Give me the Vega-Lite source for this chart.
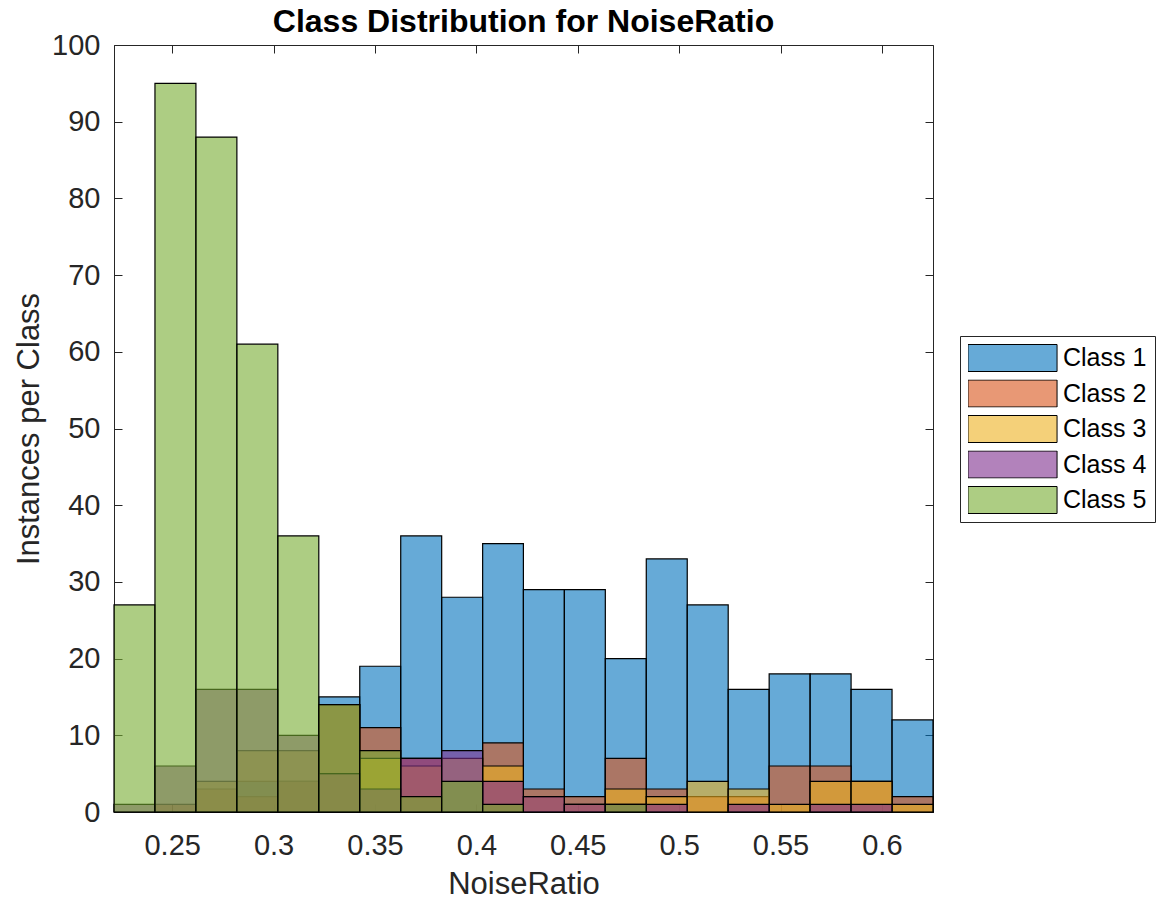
{
  "$schema": "https://vega.github.io/schema/vega-lite/v6.json",
  "width": 819,
  "height": 767,
  "autosize": {"type": "none"},
  "padding": {"left": 114, "top": 45, "right": 228, "bottom": 89},
  "background": "white",
  "title": {"text": "Class Distribution for NoiseRatio", "fontSize": 32, "fontWeight": "bold", "font": "Liberation Sans", "color": "black", "anchor": "middle", "frame": "group", "offset": -8},
  "config": {"view": {"stroke": "#262626", "strokeWidth": 1}},
  "datasets": {
    "h": [
      {"cls": "Class 1", "x0": 0.2819, "x1": 0.3021, "n": 4},
      {"cls": "Class 1", "x0": 0.3021, "x1": 0.3223, "n": 4},
      {"cls": "Class 1", "x0": 0.3223, "x1": 0.3425, "n": 15},
      {"cls": "Class 1", "x0": 0.3425, "x1": 0.3627, "n": 19},
      {"cls": "Class 1", "x0": 0.3627, "x1": 0.3829, "n": 36},
      {"cls": "Class 1", "x0": 0.3829, "x1": 0.4031, "n": 28},
      {"cls": "Class 1", "x0": 0.4031, "x1": 0.4232, "n": 35},
      {"cls": "Class 1", "x0": 0.4232, "x1": 0.4434, "n": 29},
      {"cls": "Class 1", "x0": 0.4434, "x1": 0.4636, "n": 29},
      {"cls": "Class 1", "x0": 0.4636, "x1": 0.4838, "n": 20},
      {"cls": "Class 1", "x0": 0.4838, "x1": 0.504, "n": 33},
      {"cls": "Class 1", "x0": 0.504, "x1": 0.5242, "n": 27},
      {"cls": "Class 1", "x0": 0.5242, "x1": 0.5444, "n": 16},
      {"cls": "Class 1", "x0": 0.5444, "x1": 0.5646, "n": 18},
      {"cls": "Class 1", "x0": 0.5646, "x1": 0.5848, "n": 18},
      {"cls": "Class 1", "x0": 0.5848, "x1": 0.605, "n": 16},
      {"cls": "Class 1", "x0": 0.605, "x1": 0.6252, "n": 12},
      {"cls": "Class 2", "x0": 0.2415, "x1": 0.2617, "n": 1},
      {"cls": "Class 2", "x0": 0.2617, "x1": 0.2819, "n": 3},
      {"cls": "Class 2", "x0": 0.2819, "x1": 0.3021, "n": 2},
      {"cls": "Class 2", "x0": 0.3021, "x1": 0.3223, "n": 4},
      {"cls": "Class 2", "x0": 0.3223, "x1": 0.3425, "n": 14},
      {"cls": "Class 2", "x0": 0.3425, "x1": 0.3627, "n": 11},
      {"cls": "Class 2", "x0": 0.3627, "x1": 0.3829, "n": 7},
      {"cls": "Class 2", "x0": 0.4031, "x1": 0.4232, "n": 9},
      {"cls": "Class 2", "x0": 0.4232, "x1": 0.4434, "n": 3},
      {"cls": "Class 2", "x0": 0.4434, "x1": 0.4636, "n": 2},
      {"cls": "Class 2", "x0": 0.4636, "x1": 0.4838, "n": 7},
      {"cls": "Class 2", "x0": 0.4838, "x1": 0.504, "n": 3},
      {"cls": "Class 2", "x0": 0.504, "x1": 0.5242, "n": 2},
      {"cls": "Class 2", "x0": 0.5242, "x1": 0.5444, "n": 2},
      {"cls": "Class 2", "x0": 0.5444, "x1": 0.5646, "n": 6},
      {"cls": "Class 2", "x0": 0.5646, "x1": 0.5848, "n": 6},
      {"cls": "Class 2", "x0": 0.5848, "x1": 0.605, "n": 4},
      {"cls": "Class 2", "x0": 0.605, "x1": 0.6252, "n": 2},
      {"cls": "Class 3", "x0": 0.2617, "x1": 0.2819, "n": 4},
      {"cls": "Class 3", "x0": 0.2819, "x1": 0.3021, "n": 8},
      {"cls": "Class 3", "x0": 0.3021, "x1": 0.3223, "n": 8},
      {"cls": "Class 3", "x0": 0.3223, "x1": 0.3425, "n": 5},
      {"cls": "Class 3", "x0": 0.3425, "x1": 0.3627, "n": 7},
      {"cls": "Class 3", "x0": 0.3627, "x1": 0.3829, "n": 6},
      {"cls": "Class 3", "x0": 0.3829, "x1": 0.4031, "n": 7},
      {"cls": "Class 3", "x0": 0.4031, "x1": 0.4232, "n": 6},
      {"cls": "Class 3", "x0": 0.4232, "x1": 0.4434, "n": 2},
      {"cls": "Class 3", "x0": 0.4434, "x1": 0.4636, "n": 1},
      {"cls": "Class 3", "x0": 0.4636, "x1": 0.4838, "n": 3},
      {"cls": "Class 3", "x0": 0.4838, "x1": 0.504, "n": 2},
      {"cls": "Class 3", "x0": 0.504, "x1": 0.5242, "n": 4},
      {"cls": "Class 3", "x0": 0.5242, "x1": 0.5444, "n": 3},
      {"cls": "Class 3", "x0": 0.5444, "x1": 0.5646, "n": 1},
      {"cls": "Class 3", "x0": 0.5646, "x1": 0.5848, "n": 4},
      {"cls": "Class 3", "x0": 0.5848, "x1": 0.605, "n": 4},
      {"cls": "Class 3", "x0": 0.605, "x1": 0.6252, "n": 1},
      {"cls": "Class 4", "x0": 0.2213, "x1": 0.2415, "n": 1},
      {"cls": "Class 4", "x0": 0.2415, "x1": 0.2617, "n": 6},
      {"cls": "Class 4", "x0": 0.2617, "x1": 0.2819, "n": 16},
      {"cls": "Class 4", "x0": 0.2819, "x1": 0.3021, "n": 16},
      {"cls": "Class 4", "x0": 0.3021, "x1": 0.3223, "n": 10},
      {"cls": "Class 4", "x0": 0.3223, "x1": 0.3425, "n": 5},
      {"cls": "Class 4", "x0": 0.3425, "x1": 0.3627, "n": 3},
      {"cls": "Class 4", "x0": 0.3627, "x1": 0.3829, "n": 7},
      {"cls": "Class 4", "x0": 0.3829, "x1": 0.4031, "n": 8},
      {"cls": "Class 4", "x0": 0.4031, "x1": 0.4232, "n": 4},
      {"cls": "Class 4", "x0": 0.4232, "x1": 0.4434, "n": 2},
      {"cls": "Class 4", "x0": 0.4434, "x1": 0.4636, "n": 1},
      {"cls": "Class 4", "x0": 0.4636, "x1": 0.4838, "n": 1},
      {"cls": "Class 4", "x0": 0.4838, "x1": 0.504, "n": 1},
      {"cls": "Class 4", "x0": 0.5242, "x1": 0.5444, "n": 1},
      {"cls": "Class 4", "x0": 0.5646, "x1": 0.5848, "n": 1},
      {"cls": "Class 4", "x0": 0.5848, "x1": 0.605, "n": 1},
      {"cls": "Class 5", "x0": 0.2213, "x1": 0.2415, "n": 27},
      {"cls": "Class 5", "x0": 0.2415, "x1": 0.2617, "n": 95},
      {"cls": "Class 5", "x0": 0.2617, "x1": 0.2819, "n": 88},
      {"cls": "Class 5", "x0": 0.2819, "x1": 0.3021, "n": 61},
      {"cls": "Class 5", "x0": 0.3021, "x1": 0.3223, "n": 36},
      {"cls": "Class 5", "x0": 0.3223, "x1": 0.3425, "n": 14},
      {"cls": "Class 5", "x0": 0.3425, "x1": 0.3627, "n": 8},
      {"cls": "Class 5", "x0": 0.3627, "x1": 0.3829, "n": 2},
      {"cls": "Class 5", "x0": 0.3829, "x1": 0.4031, "n": 4},
      {"cls": "Class 5", "x0": 0.4031, "x1": 0.4232, "n": 1},
      {"cls": "Class 5", "x0": 0.4636, "x1": 0.4838, "n": 1}
    ]
  },
  "data": {"name": "h"},
  "layer": [
    {
      "mark": {"type": "bar", "fillOpacity": 0.6, "stroke": "black", "strokeWidth": 1.2, "strokeOpacity": 1},
      "encoding": {
        "x": {
          "field": "x0", "type": "quantitative",
          "scale": {"domain": [0.2213, 0.6252], "nice": false, "zero": false},
          "axis": {"orient": "bottom", "values": [0.25, 0.3, 0.35, 0.4, 0.45, 0.5, 0.55, 0.6], "format": "~g", "grid": false,
            "title": "NoiseRatio", "titleFont": "Liberation Sans", "titleFontSize": 31, "titleFontWeight": "normal", "titleColor": "#262626",
            "titleY": 81, "titleBaseline": "alphabetic",
            "labelFont": "Liberation Sans", "labelFontSize": 29, "labelColor": "#262626", "labelFlush": false, "labelOverlap": false,
            "labelPadding": 27, "tickSize": -8, "tickColor": "#262626", "domainColor": "#262626"}
        },
        "x2": {"field": "x1"},
        "y": {
          "field": "n", "type": "quantitative", "stack": null,
          "scale": {"domain": [0, 100], "nice": false},
          "axis": {"orient": "left", "values": [0, 10, 20, 30, 40, 50, 60, 70, 80, 90, 100], "grid": false,
            "title": "Instances per Class", "titleFont": "Liberation Sans", "titleFontSize": 31, "titleFontWeight": "normal", "titleColor": "#262626",
            "titleX": -76, "titleY": 383.5, "titleBaseline": "alphabetic", "titleAngle": -90,
            "labelFont": "Liberation Sans", "labelFontSize": 29, "labelColor": "#262626",
            "labelPadding": 22, "tickSize": -8, "tickColor": "#262626", "domainColor": "#262626"}
        },
        "y2": {"datum": 0},
        "color": {
          "field": "cls", "type": "nominal",
          "scale": {"domain": ["Class 1", "Class 2", "Class 3", "Class 4", "Class 5"], "range": ["#0072BD", "#D95319", "#EDB120", "#7E2F8E", "#77AC30"]},
          "legend": {"orient": "none", "legendX": 846, "legendY": 291, "title": null, "padding": 8,
            "strokeColor": "#262626", "fillColor": "white",
            "labelFont": "Liberation Sans", "labelFontSize": 25, "labelColor": "black",
            "symbolType": "M-1.65,-0.5H1.65V0.5H-1.65Z", "symbolSize": 2916, "symbolOffset": 17, "labelOffset": 23,
            "clipHeight": 28, "rowPadding": 7.5, "symbolStrokeColor": "black", "symbolStrokeWidth": 1,
            "encode": {"symbols": {"update": {"fillOpacity": {"value": 0.6}, "stroke": {"value": "black"}, "strokeWidth": {"value": 1}}}}}
        }
      }
    },
    {
      "mark": {"type": "bar", "opacity": 0},
      "encoding": {
        "x": {"field": "x0", "type": "quantitative",
          "axis": {"orient": "top", "values": [0.25, 0.3, 0.35, 0.4, 0.45, 0.5, 0.55, 0.6], "labels": false, "title": null, "domain": false, "grid": false, "tickSize": -8, "tickColor": "#262626"}},
        "x2": {"field": "x1"},
        "y": {"field": "n", "type": "quantitative", "stack": null,
          "axis": {"orient": "right", "values": [0, 10, 20, 30, 40, 50, 60, 70, 80, 90, 100], "labels": false, "title": null, "domain": false, "grid": false, "tickSize": -8, "tickColor": "#262626"}},
        "y2": {"datum": 0}
      }
    }
  ],
  "resolve": {"axis": {"x": "independent", "y": "independent"}}
}
